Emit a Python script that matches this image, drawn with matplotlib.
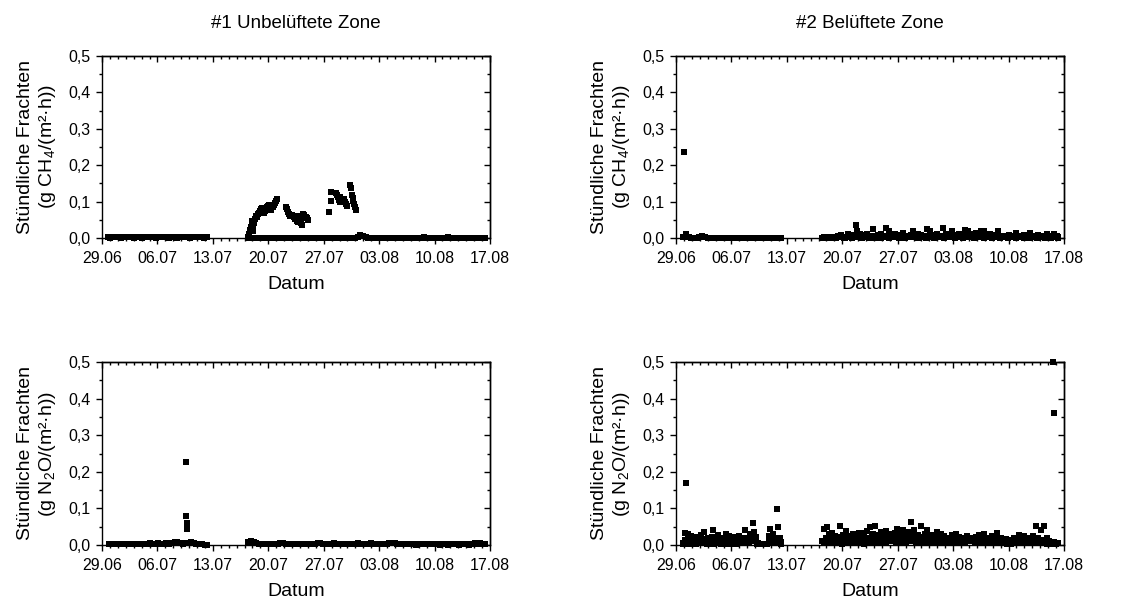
import numpy as np
import pandas as pd
import matplotlib
matplotlib.use('Agg')
import matplotlib.pyplot as plt
import matplotlib.dates as mdates
from matplotlib.ticker import FixedLocator, FixedFormatter, MultipleLocator

plt.rcParams['font.family'] = ['Liberation Sans', 'DejaVu Sans']
plt.rcParams['mathtext.fontset'] = 'custom'
plt.rcParams['mathtext.rm'] = 'Liberation Sans'
plt.rcParams['mathtext.it'] = 'Liberation Sans:italic'
plt.rcParams['mathtext.bf'] = 'Liberation Sans:bold'

# ---------------- axes / labels ----------------
START = '2019-06-29'
END = '2019-08-17'
x_tick_labels = ['29.06', '06.07', '13.07', '20.07', '27.07', '03.08', '10.08', '17.08']
y_ticks = [0.0, 0.1, 0.2, 0.3, 0.4, 0.5]
y_tick_labels = ['0,0', '0,1', '0,2', '0,3', '0,4', '0,5']
titles = ['#1 Unbelüftete Zone', '#2 Belüftete Zone']
ylabel_ch4 = 'Stündliche Frachten\n(g CH$_4$/(m²·h))'
ylabel_n2o = 'Stündliche Frachten\n(g N$_2$O/(m²·h))'
xlabel = 'Datum'

# ---------------- data (days after 29.06, values) ----------------
# Panel 1: CH4, unaerated zone
p1_segA_range = (0.7, 13.2)
p1_segA_vals = [0.002, 0.001, 0.002, 0.003, 0.002, 0.001, 0.002, 0.002, 0.003, 0.002,
                0.001, 0.002, 0.002, 0.001, 0.002, 0.003, 0.002, 0.002, 0.001, 0.002,
                0.002, 0.003, 0.002, 0.001, 0.002, 0.002, 0.001, 0.002, 0.003, 0.002,
                0.002, 0.001, 0.002, 0.002, 0.003, 0.002, 0.001, 0.002]
p1_segB_range = (18.5, 48.4)
p1_segB_vals = [0.001, 0.000, 0.001, 0.001, 0.000, 0.001, 0.000, 0.001, 0.001, 0.000,
                0.001, 0.000, 0.001, 0.000, 0.001, 0.001, 0.000, 0.001, 0.000, 0.001,
                0.000, 0.001, 0.001, 0.000, 0.001, 0.000, 0.001, 0.001, 0.000, 0.001,
                0.001, 0.000, 0.001, 0.000, 0.001, 0.001, 0.000, 0.001, 0.000, 0.001,
                0.001, 0.003, 0.008, 0.006, 0.002, 0.001, 0.000, 0.001, 0.001, 0.000,
                0.001, 0.000, 0.001, 0.001, 0.000, 0.001, 0.000, 0.001, 0.001, 0.000,
                0.001, 0.000, 0.001, 0.001, 0.000, 0.001, 0.003, 0.001, 0.000, 0.001,
                0.001, 0.000, 0.001, 0.001, 0.000, 0.004, 0.001, 0.000, 0.001, 0.001,
                0.000, 0.001, 0.001, 0.000, 0.001, 0.001, 0.000, 0.001, 0.001, 0.000]
p1_peak_days = [18.50, 18.60, 18.70, 18.80, 18.90, 19.00, 19.05, 19.10, 19.20, 19.30, 19.40,
                19.60, 19.70, 19.80, 19.95, 20.10, 20.20,
                20.40, 20.55, 20.70, 20.85, 21.00, 21.15,
                21.40, 21.55, 21.70, 21.85, 22.00, 22.15,
                23.20, 23.35, 23.50, 23.65, 23.80,
                24.00, 24.20, 24.40, 24.60, 24.75,
                24.80, 24.95, 25.10, 25.25,
                25.40, 25.55, 25.70, 25.85, 26.00,
                28.70, 28.90, 28.90,
                29.60, 29.70, 29.80, 29.90, 30.00, 30.10,
                30.50, 30.65, 30.80, 30.95,
                31.30, 31.40, 31.55, 31.65, 31.75, 31.85, 31.95, 32.05]
p1_peak_vals = [0.004, 0.012, 0.022, 0.030, 0.040, 0.048, 0.020, 0.030, 0.042, 0.052, 0.060,
                0.059, 0.065, 0.070, 0.075, 0.080, 0.083,
                0.068, 0.074, 0.079, 0.084, 0.088, 0.091,
                0.077, 0.084, 0.090, 0.097, 0.103, 0.108,
                0.086, 0.080, 0.072, 0.066, 0.060,
                0.063, 0.058, 0.053, 0.048, 0.044,
                0.060, 0.050, 0.042, 0.036,
                0.066, 0.062, 0.058, 0.054, 0.050,
                0.071, 0.127, 0.103,
                0.124, 0.118, 0.112, 0.105, 0.099, 0.112,
                0.106, 0.100, 0.094, 0.088,
                0.146, 0.138, 0.118, 0.110, 0.102, 0.094, 0.086, 0.078]

# Panel 2: CH4, aerated zone
p2_segA_range = (0.9, 13.3)
p2_segA_vals = [0.003, 0.012, 0.004, 0.001, 0.000, 0.001, 0.002, 0.006, 0.002, 0.001,
                0.000, 0.001, 0.001, 0.000, 0.001, 0.001, 0.000, 0.001, 0.000, 0.001,
                0.001, 0.000, 0.001, 0.001, 0.000, 0.001, 0.000, 0.001, 0.001, 0.000,
                0.001, 0.001, 0.000, 0.001, 0.000, 0.001, 0.001]
p2_segB_range = (18.5, 48.3)
p2_segB_vals = [0.001, 0.002, 0.000, 0.003, 0.001,
                0.002, 0.004, 0.001, 0.003, 0.002,
                0.006, 0.002, 0.008, 0.003, 0.001,
                0.004, 0.012, 0.003, 0.008, 0.002,
                0.005, 0.035, 0.020, 0.004, 0.010,
                0.003, 0.008, 0.002, 0.010, 0.004,
                0.002, 0.006, 0.025, 0.004, 0.001,
                0.007, 0.003, 0.010, 0.002, 0.005,
                0.027, 0.004, 0.020, 0.006, 0.003,
                0.002, 0.012, 0.004, 0.008, 0.003,
                0.006, 0.015, 0.003, 0.005, 0.002,
                0.004, 0.009, 0.018, 0.003, 0.006,
                0.010, 0.003, 0.007, 0.002, 0.004,
                0.006, 0.025, 0.004, 0.020, 0.003,
                0.008, 0.003, 0.012, 0.005, 0.002,
                0.004, 0.027, 0.006, 0.010, 0.003,
                0.005, 0.008, 0.018, 0.003, 0.007,
                0.002, 0.010, 0.004, 0.006, 0.003,
                0.023, 0.005, 0.020, 0.008, 0.004,
                0.012, 0.003, 0.015, 0.006, 0.009,
                0.020, 0.005, 0.018, 0.010, 0.004,
                0.006, 0.012, 0.003, 0.008, 0.002,
                0.004, 0.018, 0.005, 0.003, 0.006,
                0.002, 0.006, 0.003, 0.008, 0.002,
                0.003, 0.005, 0.014, 0.004, 0.002,
                0.006, 0.002, 0.008, 0.003, 0.005,
                0.002, 0.013, 0.004, 0.006, 0.002,
                0.004, 0.008, 0.002, 0.005, 0.003,
                0.003, 0.006, 0.012, 0.004, 0.002,
                0.005, 0.010, 0.003, 0.006, 0.002]
p2_segB_low_vals = [0.001, 0.002, 0.001, 0.003, 0.002, 0.001, 0.002, 0.004, 0.001, 0.002,
                    0.003, 0.001, 0.002, 0.004, 0.002, 0.001, 0.003, 0.002, 0.001, 0.002,
                    0.002, 0.004, 0.001, 0.003, 0.002, 0.001, 0.002, 0.003, 0.004, 0.001,
                    0.002, 0.001, 0.003, 0.002, 0.004, 0.002, 0.001, 0.003, 0.002, 0.001,
                    0.003, 0.002, 0.001, 0.004, 0.002, 0.003, 0.001, 0.002, 0.004, 0.002,
                    0.001, 0.003, 0.002, 0.001, 0.004, 0.002, 0.003, 0.001, 0.002, 0.003,
                    0.002, 0.001, 0.003, 0.002, 0.001, 0.004, 0.002, 0.001, 0.003, 0.002,
                    0.001, 0.002, 0.004, 0.001, 0.002, 0.003, 0.001, 0.002, 0.001, 0.003,
                    0.002, 0.001, 0.002, 0.003, 0.001, 0.002, 0.001, 0.003, 0.002, 0.001]
p2_out_days = [1.05]
p2_out_vals = [0.237]

# Panel 3: N2O, unaerated zone
p3_segA_range = (0.9, 13.3)
p3_segA_vals = [0.004, 0.003, 0.004, 0.003, 0.004, 0.004, 0.003, 0.004, 0.004, 0.003,
                0.004, 0.004, 0.003, 0.004, 0.004, 0.005, 0.004, 0.004, 0.005, 0.004,
                0.004, 0.005, 0.004, 0.006, 0.009, 0.007, 0.005, 0.004, 0.005, 0.006,
                0.009, 0.006, 0.004, 0.003, 0.002, 0.001, 0.001]
p3_segB_range = (18.5, 48.4)
p3_segB_vals = [0.008, 0.010, 0.007, 0.005, 0.003, 0.002, 0.003, 0.002, 0.003, 0.002,
                0.003, 0.004, 0.006, 0.005, 0.003, 0.002, 0.003, 0.003, 0.002, 0.003,
                0.003, 0.002, 0.003, 0.003, 0.002, 0.003, 0.005, 0.006, 0.004, 0.003,
                0.004, 0.003, 0.005, 0.004, 0.003, 0.004, 0.003, 0.004, 0.004, 0.003,
                0.004, 0.005, 0.004, 0.003, 0.004, 0.004, 0.005, 0.004, 0.003, 0.004,
                0.004, 0.003, 0.004, 0.005, 0.006, 0.005, 0.004, 0.003, 0.004, 0.003,
                0.002, 0.003, 0.002, 0.001, 0.002, 0.003, 0.002, 0.003, 0.002, 0.002,
                0.003, 0.002, 0.001, 0.002, 0.002, 0.001, 0.002, 0.003, 0.002, 0.001,
                0.002, 0.003, 0.002, 0.001, 0.003, 0.005, 0.003, 0.006, 0.004, 0.002]
p3_peak_days = [10.60, 10.65, 10.70, 10.75]
p3_peak_vals = [0.228, 0.078, 0.060, 0.043]

# Panel 4: N2O, aerated zone
p4_segA_range = (0.9, 13.3)
p4_segA_vals = [0.004, 0.033, 0.012, 0.030, 0.006,
                0.025, 0.008, 0.018, 0.003, 0.022,
                0.010, 0.028, 0.005, 0.036, 0.015,
                0.004, 0.020, 0.012, 0.022, 0.040,
                0.018, 0.006, 0.026, 0.010, 0.003,
                0.020, 0.008, 0.030, 0.004, 0.024,
                0.012, 0.003, 0.006, 0.022, 0.004,
                0.025, 0.008, 0.014, 0.020, 0.040,
                0.018, 0.010, 0.030, 0.014, 0.060,
                0.036, 0.022, 0.006, 0.003, 0.002,
                0.003, 0.002, 0.003, 0.002, 0.025,
                0.045, 0.018, 0.030, 0.010, 0.097,
                0.050, 0.020, 0.008]
p4_segA_low_vals = [0.006, 0.014, 0.003, 0.010,
                    0.012, 0.004, 0.009, 0.015,
                    0.005, 0.011, 0.016, 0.007,
                    0.013, 0.006, 0.010, 0.004,
                    0.009, 0.015, 0.005, 0.012,
                    0.004, 0.010, 0.014, 0.006,
                    0.011, 0.007, 0.003, 0.008,
                    0.006, 0.012, 0.016, 0.009,
                    0.014, 0.005, 0.011, 0.018,
                    0.010, 0.004, 0.002, 0.003,
                    0.002, 0.003, 0.002, 0.012,
                    0.016, 0.008, 0.020, 0.012,
                    0.006, 0.004]
p4_segB_range = (18.5, 48.3)
p4_segB_vals = [0.010, 0.043, 0.020, 0.048, 0.030,
                0.015, 0.032, 0.008, 0.025, 0.018,
                0.022, 0.052, 0.012, 0.028, 0.006,
                0.037, 0.015, 0.024, 0.010, 0.030,
                0.008, 0.026, 0.018, 0.032, 0.012,
                0.020, 0.034, 0.010, 0.038, 0.016,
                0.050, 0.022, 0.030, 0.052, 0.014,
                0.026, 0.008, 0.036, 0.018, 0.028,
                0.038, 0.012, 0.022, 0.030, 0.016,
                0.020, 0.034, 0.045, 0.010, 0.026,
                0.018, 0.040, 0.028, 0.012, 0.035,
                0.024, 0.063, 0.030, 0.040, 0.016,
                0.028, 0.014, 0.053, 0.022, 0.010,
                0.030, 0.040, 0.018, 0.026, 0.012,
                0.016, 0.028, 0.035, 0.010, 0.022,
                0.030, 0.014, 0.024, 0.018, 0.008,
                0.020, 0.012, 0.026, 0.016, 0.030,
                0.010, 0.022, 0.014, 0.020, 0.008,
                0.018, 0.024, 0.012, 0.020, 0.010,
                0.016, 0.008, 0.022, 0.014, 0.026,
                0.012, 0.020, 0.030, 0.010, 0.018,
                0.006, 0.016, 0.024, 0.010, 0.020,
                0.032, 0.014, 0.008, 0.018, 0.012,
                0.006, 0.016, 0.010, 0.014, 0.004,
                0.012, 0.020, 0.008, 0.016, 0.028,
                0.018, 0.010, 0.024, 0.006, 0.014,
                0.012, 0.020, 0.016, 0.024, 0.008,
                0.053, 0.018, 0.012, 0.040, 0.006,
                0.053, 0.010, 0.020, 0.006, 0.008,
                0.005, 0.008, 0.004, 0.006, 0.005]
p4_segB_low_vals = [0.012, 0.006, 0.018, 0.009,
                    0.005, 0.014, 0.010, 0.020,
                    0.008, 0.016, 0.004, 0.012,
                    0.015, 0.007, 0.019, 0.010,
                    0.006, 0.013, 0.009, 0.017,
                    0.011, 0.004, 0.015, 0.008,
                    0.018, 0.009, 0.006, 0.014,
                    0.010, 0.020, 0.012, 0.005,
                    0.007, 0.015, 0.011, 0.019,
                    0.013, 0.006, 0.017, 0.009,
                    0.008, 0.018, 0.005, 0.014,
                    0.016, 0.010, 0.021, 0.007,
                    0.012, 0.006, 0.015, 0.019,
                    0.009, 0.017, 0.011, 0.005,
                    0.014, 0.008, 0.018, 0.012,
                    0.006, 0.013, 0.009, 0.016,
                    0.011, 0.005, 0.014, 0.008,
                    0.015, 0.009, 0.006, 0.012,
                    0.007, 0.013, 0.010, 0.016,
                    0.012, 0.006, 0.009, 0.014,
                    0.008, 0.015, 0.011, 0.006,
                    0.013, 0.007, 0.010, 0.017,
                    0.005, 0.011, 0.008, 0.013,
                    0.009, 0.004, 0.012, 0.007,
                    0.006, 0.010, 0.014, 0.008,
                    0.011, 0.005, 0.009, 0.012,
                    0.007, 0.013, 0.006, 0.010,
                    0.012, 0.008, 0.015, 0.005,
                    0.009, 0.004, 0.011, 0.006,
                    0.004, 0.007, 0.003, 0.005]
p4_out_days = [1.2, 47.6, 47.7]
p4_out_vals = [0.170, 0.500, 0.362]

# ---------------- figure ----------------
fig = plt.figure(figsize=(11.24, 6.01), dpi=100)
W, H = 1124, 601
ax_w = 388
boxes = [(102, 56, 182), (676, 56, 182), (102, 362, 183), (676, 362, 183)]
axes = [fig.add_axes([l / W, 1 - (t + h) / H, ax_w / W, h / H]) for l, t, h in boxes]

base = mdates.date2num(pd.Timestamp(START))
major_x = mdates.date2num(pd.date_range(START, END, freq='7D'))
minor_x = mdates.date2num(pd.date_range(START, END, freq='1D'))

MS = 3.7


def plot_seg(ax, rng, vals):
    d = np.linspace(rng[0], rng[1], len(vals))
    ax.plot(base + d, vals, 's', ms=MS, mew=0, color='black', clip_on=False, zorder=3)


def plot_pts(ax, days, vals):
    ax.plot(base + np.asarray(days), vals, 's', ms=MS, mew=0, color='black', clip_on=False, zorder=3)


plot_seg(axes[0], p1_segA_range, p1_segA_vals)
plot_seg(axes[0], p1_segB_range, p1_segB_vals)
plot_pts(axes[0], p1_peak_days, p1_peak_vals)

plot_seg(axes[1], p2_segA_range, p2_segA_vals)
plot_seg(axes[1], p2_segB_range, p2_segB_vals)
plot_seg(axes[1], p2_segB_range, p2_segB_low_vals)
plot_pts(axes[1], p2_out_days, p2_out_vals)

plot_seg(axes[2], p3_segA_range, p3_segA_vals)
plot_seg(axes[2], p3_segB_range, p3_segB_vals)
plot_pts(axes[2], p3_peak_days, p3_peak_vals)

plot_seg(axes[3], p4_segA_range, p4_segA_vals)
plot_seg(axes[3], p4_segA_range, p4_segA_low_vals)
plot_seg(axes[3], p4_segB_range, p4_segB_vals)
plot_seg(axes[3], p4_segB_range, p4_segB_low_vals)
plot_pts(axes[3], p4_out_days, p4_out_vals)

for i, ax in enumerate(axes):
    ax.set_xlim(base, base + 49)
    ax.set_ylim(0, 0.5)
    ax.xaxis.set_major_locator(FixedLocator(major_x))
    ax.xaxis.set_major_formatter(FixedFormatter(x_tick_labels))
    ax.xaxis.set_minor_locator(FixedLocator(minor_x))
    ax.yaxis.set_major_locator(FixedLocator(y_ticks))
    ax.yaxis.set_major_formatter(FixedFormatter(y_tick_labels))
    ax.yaxis.set_minor_locator(MultipleLocator(0.05))
    ax.tick_params(which='both', direction='out', top=False, right=False, width=1.0, colors='black')
    ax.tick_params(which='major', length=4.0, labelsize=11.5)
    ax.tick_params(which='minor', length=2.4)
    ax.tick_params(axis='x', which='major', pad=5.5)
    ax.tick_params(axis='y', which='major', pad=4.5)
    for s in ax.spines.values():
        s.set_linewidth(1.0)
    # mirrored inward ticks on top and right
    sx = ax.secondary_xaxis('top')
    sx.xaxis.set_major_locator(FixedLocator(major_x))
    sx.xaxis.set_minor_locator(FixedLocator(minor_x))
    sx.tick_params(which='both', direction='in', labeltop=False, width=1.0)
    sx.tick_params(which='major', length=4.0)
    sx.tick_params(which='minor', length=2.4)
    sx.spines['top'].set_linewidth(1.0)
    sy = ax.secondary_yaxis('right')
    sy.yaxis.set_major_locator(FixedLocator(y_ticks))
    sy.yaxis.set_minor_locator(MultipleLocator(0.05))
    sy.tick_params(which='both', direction='in', labelright=False, width=1.0)
    sy.tick_params(which='major', length=4.0)
    sy.tick_params(which='minor', length=2.4)
    sy.spines['right'].set_linewidth(1.0)

    ax.set_xlabel(xlabel, fontsize=14, labelpad=7)
    ax.set_ylabel(ylabel_ch4 if i < 2 else ylabel_n2o, fontsize=14, labelpad=7, linespacing=1.2)
    if i < 2:
        ax.set_title(titles[i], fontsize=13.5, pad=20)

fig.savefig('out.png', dpi=100)
